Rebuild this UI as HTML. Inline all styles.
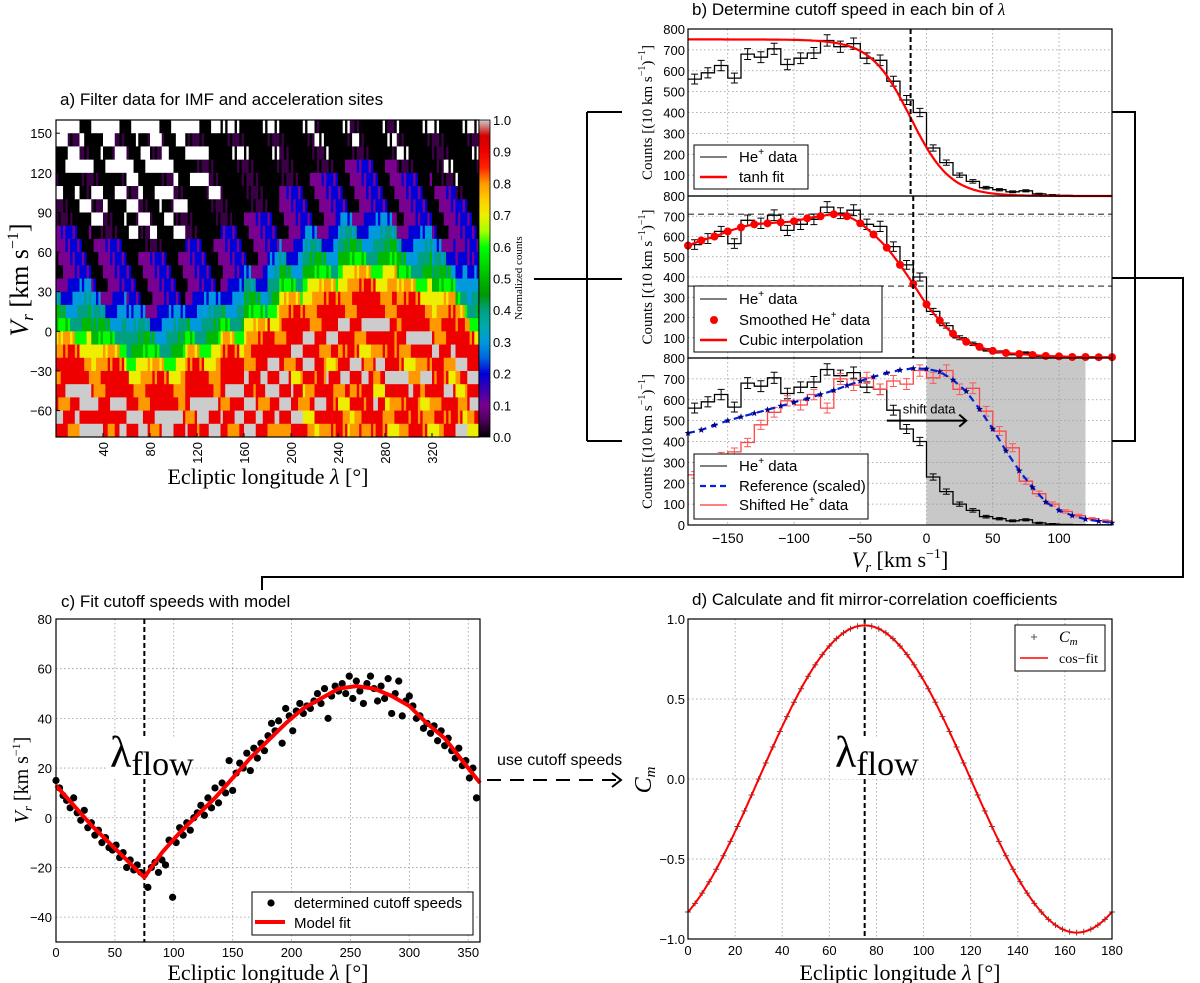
<!DOCTYPE html>
<html><head><meta charset="utf-8">
<style>
html,body{margin:0;padding:0;background:#fff;}
svg{display:block;}
text{font-family:"Liberation Sans","DejaVu Sans",sans-serif;}
.serif{font-family:"Liberation Serif","DejaVu Serif",serif;}
</style></head>
<body>
<svg id="fig" width="1200" height="983" viewBox="0 0 1200 983" xmlns="http://www.w3.org/2000/svg">
<defs>
<linearGradient id="cbgrad" x1="0" y1="1" x2="0" y2="0">
<stop offset="0" stop-color="#000000"/><stop offset="0.05" stop-color="#4a0058"/><stop offset="0.1" stop-color="#7a0090"/>
<stop offset="0.15" stop-color="#3a00b0"/><stop offset="0.2" stop-color="#0000d8"/><stop offset="0.25" stop-color="#0066dd"/>
<stop offset="0.3" stop-color="#0099dd"/><stop offset="0.35" stop-color="#00aaaa"/><stop offset="0.4" stop-color="#00a080"/>
<stop offset="0.45" stop-color="#009900"/><stop offset="0.5" stop-color="#00b800"/><stop offset="0.55" stop-color="#00dd00"/>
<stop offset="0.6" stop-color="#00ff00"/><stop offset="0.65" stop-color="#aaff00"/><stop offset="0.7" stop-color="#eeee00"/>
<stop offset="0.75" stop-color="#ffcc00"/><stop offset="0.8" stop-color="#ff9900"/><stop offset="0.85" stop-color="#ff2200"/>
<stop offset="0.9" stop-color="#ee0000"/><stop offset="0.95" stop-color="#d00000"/><stop offset="1" stop-color="#cccccc"/>
</linearGradient>
</defs>

<!-- titles -->
<text x="60" y="105" font-size="17">a) Filter data for IMF and acceleration sites</text>
<text x="692" y="15" font-size="17">b) Determine cutoff speed in each bin of <tspan class="serif" font-style="italic">λ</tspan></text>
<text x="61" y="607" font-size="17">c) Fit cutoff speeds with model</text>
<text x="692" y="605" font-size="17">d) Calculate and fit mirror-correlation coefficients</text>

<g id="pa"></g>
<g id="pb"></g>
<g id="pc"></g>
<g id="pd"></g>

<!-- connectors -->
<g stroke="#000" stroke-width="2" fill="none">
<path d="M534 279 H587 M587 112 V441 M587 112 H622 M587 279 H622 M587 441 H622"/>
<path d="M1112 112 H1135 V441 H1112"/>
<path d="M1112 278 H1183 V577 H262 V590"/>
<path d="M487 780 H618" stroke-dasharray="14,9"/>
<path d="M612 773 L621 780 L612 787"/>
</g>
<text x="497" y="765" font-size="16">use cutoff speeds</text>

<!-- axis labels -->
<text class="serif" x="268" y="484" font-size="22" text-anchor="middle">Ecliptic longitude <tspan font-style="italic">λ</tspan> [°]</text>
<text class="serif" transform="translate(28,280) rotate(-90)" font-size="26" text-anchor="middle"><tspan font-style="italic">V</tspan><tspan font-style="italic" font-size="17" dy="5">r</tspan><tspan dy="-5"> [km s</tspan><tspan font-size="16" dy="-10">−1</tspan><tspan dy="10">]</tspan></text>
<text class="serif" transform="translate(522,278) rotate(-90)" font-size="11" text-anchor="middle">Normalized counts</text>
<text class="serif" x="900" y="567" font-size="22" text-anchor="middle"><tspan font-style="italic">V</tspan><tspan font-style="italic" font-size="15" dy="5">r</tspan><tspan dy="-5">  [km s</tspan><tspan font-size="14" dy="-9">−1</tspan><tspan dy="9">]</tspan></text>
<text class="serif" x="268" y="980" font-size="22" text-anchor="middle">Ecliptic longitude <tspan font-style="italic">λ</tspan> [°]</text>
<text class="serif" transform="translate(28,780) rotate(-90)" font-size="20" text-anchor="middle"><tspan font-style="italic">V</tspan><tspan font-style="italic" font-size="13" dy="4">r</tspan><tspan dy="-4"> [km s</tspan><tspan font-size="12" dy="-8">−1</tspan><tspan dy="8">]</tspan></text>
<text class="serif" x="900" y="980" font-size="22" text-anchor="middle">Ecliptic longitude <tspan font-style="italic">λ</tspan> [°]</text>
<text class="serif" transform="translate(651,780) rotate(-90)" font-size="24" text-anchor="middle" font-style="italic">C<tspan font-size="15" dy="4">m</tspan></text>
</svg>

<script>
// ---------- DATA ----------
// Panel a: 36 longitude columns (10 deg each), 24 speed rows (top 150..160 to bottom -80..-70); digit = normalized counts*10, 'a'=1.0, '-'=no data
const hmColumns = [
"--0-0-00111123457899a9a9","-0--0-00111123457899a9a9","--0-00-0111123457899aa9a",
"-0--0-0-0111123457899a9a","--0-0--00111123457899aa9","-0--0-0-0111123457899a9a",
"--0--0-0-0111123457899a9","-0--0-0-00111123457899aa","--0-0--0-0111123457899a9",
"-0--0-0-00111123457899aa","--0--0-0-0111123457899a9","-0-0-0-00111123457899a9a",
"-0-0-0000111123457899aa9","-0-00-000111123457899a9a","-0-0-000111123457899a9a9",
"-0-00000111123457899a9a9","-0-0000111123457899a9a9a","-0-0000111123457899aa9a9",
"-0-000111123457899a9a9a9","-0000111123457899a9a9a98","-0-00111123457899a98a9a9",
"-000111123457899a9a98989","0-00111123457899a9989a98","-0-0111123457899a98a9898",
"-00111123457899a989a9898","0-0111123457899a98a98989","-00111123457899a989a9898",
"-00111123457899a98a98a98","0-0111123457899a989a9898","-0-0111123457899a98a9898",
"0-00111123457899a989a989","-0-0111123457899a98a9898","-0000111123457899a989898",
"0-0-0111123457899a98a989","-0-0-0111123457899a9898a","-0-0-00111123457899a9a98"];
const hmXTicks = [40,80,120,160,200,240,280,320];
const hmYTicks = [-60,-30,0,30,60,90,120,150];
const cbTicks = ["0.0","0.1","0.2","0.3","0.4","0.5","0.6","0.7","0.8","0.9","1.0"];

// Panel b: 10 km/s bins from -180 to 140
const binEdgeStart = -180, binWidth = 10;
const heData = [560,590,625,565,680,665,705,630,660,685,745,715,730,660,650,550,460,400,230,160,100,70,40,30,20,25,10,5,3,2,1,1];
const tanhFitParams = [750,-12,30];            // amplitude, centre, width
const smoothedV = [-180,-170,-160,-150,-140,-130,-120,-110,-100,-90,-80,-70,-60,-50,-40,-30,-20,-10,0,10,20,30,40,50,60,70,80,90,100,110,120,130,140];
const smoothedCounts = [555,580,600,625,645,660,665,670,675,690,700,710,700,665,610,545,460,365,265,185,120,80,55,35,25,20,15,10,8,5,5,4,4];
const referenceCounts = [440,455,478,500,518,535,552,570,588,605,625,645,668,690,710,728,742,750,748,735,695,640,555,460,355,260,180,110,70,45,28,18,10];
const shiftedData = [240,300,330,350,395,480,540,595,575,625,560,700,670,705,650,690,675,740,705,740,650,655,545,450,370,210,150,100,65,45,30,20];
const cutoffTop = -12, cutoffMid = -10;
const midLevels = [710,355];
const bXTicks = [-150,-100,-50,0,50,100];
const bYTicks = [100,200,300,400,500,600,700];

// Panel c: cutoff speeds every 3 deg
const cutoffLambdaStep = 3;
const cutoffSpeeds = [15,12,9,7,4,8,2,-1,3,-4,-2,-7,-5,-10,-8,-12,-13,-11,-16,-14,-20,-17,-21,-19,-22,
 -23,-28,-20,-18,-22,-17,-19,-9,-32,-10,-4,-7,-2,-5,0,2,
 5,1,8,4,12,6,14,10,23,11,18,22,20,26,19,28,24,30,27,33,
 38,35,39,30,44,41,35,43,46,42,45,44,47,50,46,52,40,49,53,51,
 54,50,57,48,55,51,46,54,57,52,47,53,48,56,42,50,55,41,47,49,
 45,40,41,36,38,34,37,31,35,29,32,27,24,28,21,23,16,20,8];
const modelLambda = [0,15,30,45,60,75,90,105,120,135,150,165,180,195,210,225,240,255,270,285,300,315,330,345,360];
const modelSpeed = [13,5,-3,-10,-17,-24,-14,-6,1,8,16,24,31,38,44,48,52,53,52,49,45,38,32,23,14];
const lambdaFlowC = 75;
const cXTicks = [0,50,100,150,200,250,300,350];
const cYTicks = [-40,-20,0,20,40,60,80];

// Panel d: mirror correlation every 3 deg
const cmLambdaStep = 3;
const cmValues = [-0.831,-0.777,-0.713,-0.642,-0.564,-0.480,-0.390,-0.297,-0.200,-0.100,0,0.100,0.200,0.297,0.390,0.480,0.564,0.642,0.713,0.777,0.831,0.877,0.913,0.939,0.955,0.960,0.955,0.939,0.913,0.877,0.831,0.777,0.713,0.642,0.564,0.480,0.390,0.297,0.200,0.100,0,-0.100,-0.200,-0.297,-0.390,-0.480,-0.564,-0.642,-0.713,-0.777,-0.831,-0.877,-0.913,-0.939,-0.955,-0.960,-0.955,-0.939,-0.913,-0.877,-0.831];
const cosFitParams = [0.96,75];   // amplitude, phase (deg)
const dXTicks = [0,20,40,60,80,100,120,140,160,180];
const dYTicks = [-1.0,-0.5,0.0,0.5,1.0];

// ---------- HELPERS ----------
const NS="http://www.w3.org/2000/svg";
function mk(tag, parent, attrs, name){
  const el=document.createElementNS(NS,tag);
  for(const k in attrs) el.setAttribute(k,attrs[k]);
  
  
  parent.appendChild(el); return el;
}
function scale(d0,d1,r0,r1){return v=>r0+(v-d0)/(d1-d0)*(r1-r0);}
function hexToRgb(h){return [parseInt(h.substr(1,2),16),parseInt(h.substr(3,2),16),parseInt(h.substr(5,2),16)];}
const cmapStops=[[0,"#000000"],[0.05,"#4a0058"],[0.1,"#7a0090"],[0.15,"#3a00b0"],[0.2,"#0000d8"],[0.25,"#0066dd"],[0.3,"#0099dd"],[0.35,"#00aaaa"],[0.4,"#00a080"],[0.45,"#009900"],[0.5,"#00b800"],[0.55,"#00dd00"],[0.6,"#00ff00"],[0.65,"#aaff00"],[0.7,"#eeee00"],[0.75,"#ffcc00"],[0.8,"#ff9900"],[0.85,"#ff2200"],[0.9,"#ee0000"],[0.95,"#d00000"],[1,"#cccccc"]];
function cmap(v){
  v=Math.max(0,Math.min(1,v));
  for(let i=1;i<cmapStops.length;i++){
    if(v<=cmapStops[i][0]+1e-9){
      const a=cmapStops[i-1],b=cmapStops[i];const t=(v-a[0])/(b[0]-a[0]);
      const ca=hexToRgb(a[1]),cb=hexToRgb(b[1]);
      return "rgb("+ca.map((c,j)=>Math.round(c+(cb[j]-c)*t)).join(",")+")";
    }
  }
  return "#cccccc";
}
function frame(g,l,t,r,b,name){mk('rect',g,{x:l,y:t,width:r-l,height:b-t,fill:'none',stroke:'#000','stroke-width':1.2},name);}
function gridV(g,x,t,b){mk('line',g,{x1:x,x2:x,y1:t,y2:b,stroke:'#999','stroke-width':0.8,'stroke-dasharray':'1.5,2.5'},'grid-line-x');}
function gridH(g,y,l,r){mk('line',g,{x1:l,x2:r,y1:y,y2:y,stroke:'#999','stroke-width':0.8,'stroke-dasharray':'1.5,2.5'},'grid-line-y');}
function label(g,x,y,s,anchor,size,name){const t=mk('text',g,{x:x,y:y,'font-size':size||13,'text-anchor':anchor||'middle'},name);t.textContent=s;return t;}
function catmull(pts){
  let d="M"+pts[0][0]+" "+pts[0][1];
  for(let i=0;i<pts.length-1;i++){
    const p0=pts[Math.max(0,i-1)],p1=pts[i],p2=pts[i+1],p3=pts[Math.min(pts.length-1,i+2)];
    const c1=[p1[0]+(p2[0]-p0[0])/6,p1[1]+(p2[1]-p0[1])/6],c2=[p2[0]-(p3[0]-p1[0])/6,p2[1]-(p3[1]-p1[1])/6];
    d+=" C"+c1[0]+" "+c1[1]+" "+c2[0]+" "+c2[1]+" "+p2[0]+" "+p2[1];
  }
  return d;
}

// ---------- PANEL A ----------
(function(){
  const g=document.getElementById('pa');
  const L=56,R=479,T=120,B=437;
  const sx=scale(0,360,L,R), sy=scale(-80,160,B,T);
  const jit=[0,1,-1,0,1,0,-1,0,1,-1,0,0,1,-1,0,1,-1];
  hmColumns.forEach((col,c)=>{
    for(let s=0;s<5;s++){
      for(let r=0;r<24;r++){
        const ch=col.charAt(r)||'9';
        const j=jit[((c*5+s)*7+r*3)%jit.length];
        let fill;
        if(ch==='-'){
          const white = c<14 ? (j>=0) : (j===1);
          fill = white ? '#ffffff' : '#000000';
        } else {
          let v;
          if(ch==='a'){v = j===-1 ? 0.9 : 1.0;}
          else{
            const d=parseInt(ch,10);
            if(d===0){v = j===1?0.04:0;}
            else v=Math.max(0,Math.min(9,d+j))/10;
          }
          fill=cmap(v);
        }
        const x0=sx(c*10+s*2), x1=sx(c*10+s*2+2);
        const y0=sy(160-10*r), y1=sy(150-10*r);
        const rc=mk('rect',g,{x:x0.toFixed(2),y:y0.toFixed(2),width:(x1-x0+0.4).toFixed(2),height:(y1-y0+0.4).toFixed(2),fill:fill},'heatmap-cell');
      }
    }
  });
  frame(g,L,T,R,B,'panel-a-frame');
  hmXTicks.forEach(v=>{
    const t=mk('text',g,{transform:'translate('+(sx(v)+5)+',442) rotate(-90)','font-size':13,'text-anchor':'end'},'x-tick-label');
    t.textContent=v;
    mk('line',g,{x1:sx(v),x2:sx(v),y1:B,y2:B-4,stroke:'#000'},'x-tick');
  });
  hmYTicks.forEach(v=>{
    label(g,L-4,sy(v)+5,(v<0?'−'+(-v):v),'end',13,'y-tick-label');
    mk('line',g,{x1:L,x2:L+4,y1:sy(v),y2:sy(v),stroke:'#000'},'y-tick');
  });
  mk('rect',g,{x:479,y:T,width:11,height:B-T,fill:'url(#cbgrad)',stroke:'#000','stroke-width':0.8},'colorbar');
  cbTicks.forEach((s,i)=>{
    const y=B-i*(B-T)/10;
    label(g,493,y+5,s,'start',13,'colorbar-tick-label');
  });
})();

// ---------- PANEL B ----------
(function(){
  const g=document.getElementById('pb');
  const L=688,R=1112;
  const sx=scale(-180,140,L,R);
  const subs=[{t:29,b:196},{t:196,b:358},{t:358,b:525}];
  const sys=subs.map(s=>scale(0,800,s.b,s.t));
  function steps(vals,sy){
    let d="";
    vals.forEach((v,i)=>{const x0=sx(binEdgeStart+i*binWidth),x1=sx(binEdgeStart+(i+1)*binWidth);
      d+=(i===0?"M":"L")+x0.toFixed(1)+" "+sy(v).toFixed(1)+" L"+x1.toFixed(1)+" "+sy(v).toFixed(1)+" ";});
    return d;
  }
  function errs(vals,sy,color,name){
    vals.forEach((v,i)=>{const xc=sx(binEdgeStart+(i+0.5)*binWidth);const e=Math.sqrt(v);
      if(e<2) return;
      mk('path',g,{d:"M"+xc+" "+sy(v+e)+" V"+sy(v-e)+" M"+(xc-3.5)+" "+sy(v+e)+" h7 M"+(xc-3.5)+" "+sy(v-e)+" h7",stroke:color,'stroke-width':1,fill:'none'},name);});
  }
  mk('rect',g,{x:sx(0),y:subs[2].t,width:sx(120)-sx(0),height:subs[2].b-subs[2].t,fill:'#c8c8c8'},'shift-region');
  subs.forEach((s,k)=>{
    bXTicks.forEach(v=>gridV(g,sx(v),s.t,s.b));
    bYTicks.forEach(v=>gridH(g,sys[k](v),L,R));
  });
  const sy1=sys[0];
  mk('path',g,{d:steps(heData,sy1),fill:'none',stroke:'#000','stroke-width':1.3},'he-data-hist-1');
  errs(heData,sy1,'#000','he-data-errorbar');
  const tp=[];for(let v=-180;v<=140;v+=2){tp.push([sx(v),sy1(tanhFitParams[0]*(1-Math.tanh((v-tanhFitParams[1])/tanhFitParams[2]))/2)]);}
  mk('path',g,{d:"M"+tp.map(p=>p[0].toFixed(1)+" "+p[1].toFixed(1)).join(" L"),fill:'none',stroke:'#f00','stroke-width':2.2},'tanh-fit-line');
  mk('line',g,{x1:sx(cutoffTop),x2:sx(cutoffTop),y1:subs[0].t,y2:subs[0].b,stroke:'#000','stroke-width':2,'stroke-dasharray':'5,3'},'cutoff-line-top');
  const sy2=sys[1];
  midLevels.forEach(v=>mk('line',g,{x1:L,x2:R,y1:sy2(v),y2:sy2(v),stroke:'#666','stroke-width':1.5,'stroke-dasharray':'6,4'},'level-line'));
  mk('path',g,{d:steps(heData,sy2),fill:'none',stroke:'#000','stroke-width':1.3},'he-data-hist-2');
  errs(heData,sy2,'#000','he-data-errorbar');
  const sp=smoothedV.map((v,i)=>[sx(v),sy2(smoothedCounts[i])]);
  mk('path',g,{d:catmull(sp),fill:'none',stroke:'#f00','stroke-width':2.2},'cubic-interpolation-line');
  sp.forEach(p=>mk('circle',g,{cx:p[0],cy:p[1],r:4,fill:'#f00'},'smoothed-point'));
  mk('line',g,{x1:sx(cutoffMid),x2:sx(cutoffMid),y1:subs[1].t,y2:subs[1].b,stroke:'#000','stroke-width':2,'stroke-dasharray':'5,3'},'cutoff-line-mid');
  const sy3=sys[2];
  mk('path',g,{d:steps(heData,sy3),fill:'none',stroke:'#000','stroke-width':1.3},'he-data-hist-3');
  errs(heData,sy3,'#000','he-data-errorbar');
  mk('path',g,{d:steps(shiftedData,sy3),fill:'none',stroke:'#f44','stroke-width':1.3},'shifted-data-hist');
  errs(shiftedData,sy3,'#f55','shifted-data-errorbar');
  const rp=smoothedV.map((v,i)=>[sx(v),sy3(referenceCounts[i])]);
  mk('path',g,{d:"M"+rp.map(p=>p[0].toFixed(1)+" "+p[1].toFixed(1)).join(" L"),fill:'none',stroke:'#0022dd','stroke-width':2.2,'stroke-dasharray':'7,5'},'reference-line');
  rp.forEach(p=>{let d="";for(let i=0;i<10;i++){const a=-Math.PI/2+i*Math.PI/5;const rr=i%2?1.5:3.6;d+=(i?"L":"M")+(p[0]+rr*Math.cos(a)).toFixed(1)+" "+(p[1]+rr*Math.sin(a)).toFixed(1);}
    mk('path',g,{d:d+"Z",fill:'#000088'},'reference-marker');});
  mk('path',g,{d:"M"+sx(-30)+" "+sy3(500)+" H"+sx(30)+" M"+(sx(30)-7)+" "+(sy3(500)-6)+" L"+sx(30)+" "+sy3(500)+" L"+(sx(30)-7)+" "+(sy3(500)+6),fill:'none',stroke:'#000','stroke-width':2},'shift-arrow');
  label(g,sx(2),sy3(500)-7,'shift data','middle',13,'shift-data-label');
  subs.forEach((s,k)=>{
    frame(g,L,s.t,R,s.b,'panel-b-frame');
    const lab=k===2?[0,100,200,300,400,500,600,700,800]:[100,200,300,400,500,600,700,800];
    lab.forEach(v=>{label(g,L-3,sys[k](v)+5,String(v),'end',13,'y-tick-label');});
    const ct=(s.t+s.b)/2;
    const t=mk('text',g,{transform:'translate(652,'+ct+') rotate(-90)','font-size':15,'text-anchor':'middle',class:'serif'},'y-axis-title');
    t.innerHTML='Counts [(10 km s<tspan font-size="10" dy="-7">−1</tspan><tspan dy="7">)</tspan><tspan font-size="10" dy="-7">−1</tspan><tspan dy="7">]</tspan>';
  });
  bXTicks.forEach(v=>label(g,sx(v),543,(v<0?'−'+(-v):String(v)),'middle',14,'x-tick-label'));
  function legend(x,y,w,h,items,name){
    const lg=mk('g',g,{},name);
    mk('rect',lg,{x:x,y:y,width:w,height:h,fill:'#fff',stroke:'#000','stroke-width':1},'legend-box');
    items.forEach(it=>{
      if(it.type==='line') mk('line',lg,{x1:x+6,x2:x+33,y1:it.y,y2:it.y,stroke:it.c,'stroke-width':it.w,'stroke-dasharray':it.dash||'none'},'legend-line');
      if(it.type==='dot') mk('circle',lg,{cx:x+20,cy:it.y,r:4,fill:'#f00'},'legend-marker');
      const t=mk('text',lg,{x:x+45,y:it.y+5,'font-size':15},'legend-label');
      t.innerHTML=it.s;
    });
  }
  const he='He<tspan font-size="10" dy="-7">+</tspan><tspan dy="7"> data</tspan>';
  legend(694,145,114,44,[{type:'line',y:157,c:'#333',w:1.3,s:he},{type:'line',y:177,c:'#f00',w:2.5,s:'tanh fit'}],'legend-top');
  legend(694,286,188,66,[{type:'line',y:299,c:'#333',w:1.3,s:he},{type:'dot',y:320,s:'Smoothed He<tspan font-size="10" dy="-7">+</tspan><tspan dy="7"> data</tspan>'},{type:'line',y:340,c:'#f00',w:2.5,s:'Cubic interpolation'}],'legend-middle');
  legend(694,454,174,65,[{type:'line',y:466,c:'#333',w:1.3,s:he},{type:'line',y:486,c:'#0022dd',w:2.2,dash:'6,4',s:'Reference (scaled)'},{type:'line',y:505,c:'#f55',w:1.5,s:'Shifted He<tspan font-size="10" dy="-7">+</tspan><tspan dy="7"> data</tspan>'}],'legend-bottom');
})();

// ---------- PANEL C ----------
(function(){
  const g=document.getElementById('pc');
  const L=56,R=480,T=619,B=942;
  const sx=scale(0,360,L,R), sy=scale(-50,80,B,T);
  cXTicks.forEach(v=>gridV(g,sx(v),T,B));
  cYTicks.forEach(v=>gridH(g,sy(v),L,R));
  mk('line',g,{x1:sx(lambdaFlowC),x2:sx(lambdaFlowC),y1:T,y2:B,stroke:'#000','stroke-width':2,'stroke-dasharray':'5,3'},'lambda-flow-line');
  mk('rect',g,{x:106,y:737,width:76,height:42,fill:'#fff'},'lambda-flow-label-bg');
  cutoffSpeeds.forEach((v,i)=>mk('circle',g,{cx:sx(i*cutoffLambdaStep),cy:sy(v),r:3.6,fill:'#000'},'cutoff-speed-point'));
  const mp=modelLambda.map((l,i)=>[sx(l),sy(modelSpeed[i])]);
  mk('path',g,{d:"M"+mp.map(p=>p[0].toFixed(1)+" "+p[1].toFixed(1)).join(" L"),fill:'none',stroke:'#f00','stroke-width':4,'stroke-linejoin':'round'},'model-fit-line');
  frame(g,L,T,R,B,'panel-c-frame');
  cXTicks.forEach(v=>label(g,sx(v),957,String(v),'middle',13,'x-tick-label'));
  cYTicks.forEach(v=>label(g,L-4,sy(v)+5,(v<0?'−'+(-v):String(v)),'end',13,'y-tick-label'));
  const t=mk('text',g,{x:110,y:767,'font-size':44,class:'serif'},'lambda-flow-label');
  t.innerHTML='λ<tspan font-size="34" dy="8">flow</tspan>';
  mk('rect',g,{x:252,y:892,width:221,height:43,fill:'#fff',stroke:'#000','stroke-width':1},'legend-box');
  mk('circle',g,{cx:271,cy:903,r:3.6,fill:'#000'},'legend-marker');
  label(g,294,908,'determined cutoff speeds','start',15,'legend-label');
  mk('line',g,{x1:255,x2:285,y1:922,y2:922,stroke:'#f00','stroke-width':4},'legend-line');
  label(g,294,928,'Model fit','start',15,'legend-label');
})();

// ---------- PANEL D ----------
(function(){
  const g=document.getElementById('pd');
  const L=688,R=1112,T=619,B=939;
  const sx=scale(0,180,L,R), sy=scale(-1,1,B,T);
  dXTicks.forEach(v=>gridV(g,sx(v),T,B));
  dYTicks.forEach(v=>gridH(g,sy(v),L,R));
  mk('line',g,{x1:sx(cosFitParams[1]),x2:sx(cosFitParams[1]),y1:T,y2:B,stroke:'#000','stroke-width':2,'stroke-dasharray':'5,3'},'lambda-flow-line');
  mk('rect',g,{x:833,y:737,width:75,height:42,fill:'#fff'},'lambda-flow-label-bg');
  cmValues.forEach((v,i)=>{const x=sx(i*cmLambdaStep),y=sy(v);
    mk('path',g,{d:"M"+(x-3)+" "+y+" h6 M"+x+" "+(y-3)+" v6",stroke:'#555','stroke-width':1},'cm-marker');});
  const fp=[];for(let l=0;l<=180;l+=1){fp.push([sx(l),sy(cosFitParams[0]*Math.cos(2*(l-cosFitParams[1])*Math.PI/180))]);}
  mk('path',g,{d:"M"+fp.map(p=>p[0].toFixed(1)+" "+p[1].toFixed(1)).join(" L"),fill:'none',stroke:'#f00','stroke-width':2},'cos-fit-line');
  frame(g,L,T,R,B,'panel-d-frame');
  dXTicks.forEach(v=>label(g,sx(v),955,String(v),'middle',13,'x-tick-label'));
  dYTicks.forEach(v=>label(g,L-3,sy(v)+5,(v<0?'−'+(-v).toFixed(1):v.toFixed(1)),'end',13,'y-tick-label'));
  const t=mk('text',g,{x:835,y:767,'font-size':44,class:'serif'},'lambda-flow-label');
  t.innerHTML='λ<tspan font-size="34" dy="8">flow</tspan>';
  mk('rect',g,{x:1015,y:625,width:90,height:46,fill:'#fff',stroke:'#000','stroke-width':1},'legend-box');
  mk('path',g,{d:"M1031 637 h6 M1034 634 v6",stroke:'#555','stroke-width':1},'legend-marker');
  const lt=mk('text',g,{x:1059,y:642,'font-size':16,class:'serif','font-style':'italic'},'legend-label');
  lt.innerHTML='C<tspan font-size="11" dy="3">m</tspan>';
  mk('line',g,{x1:1020,x2:1048,y1:658,y2:658,stroke:'#f00','stroke-width':1.5},'legend-line');
  const lt2=mk('text',g,{x:1059,y:663,'font-size':14,class:'serif'},'legend-label');
  lt2.textContent='cos−fit';
})();
</script>
</body></html>
